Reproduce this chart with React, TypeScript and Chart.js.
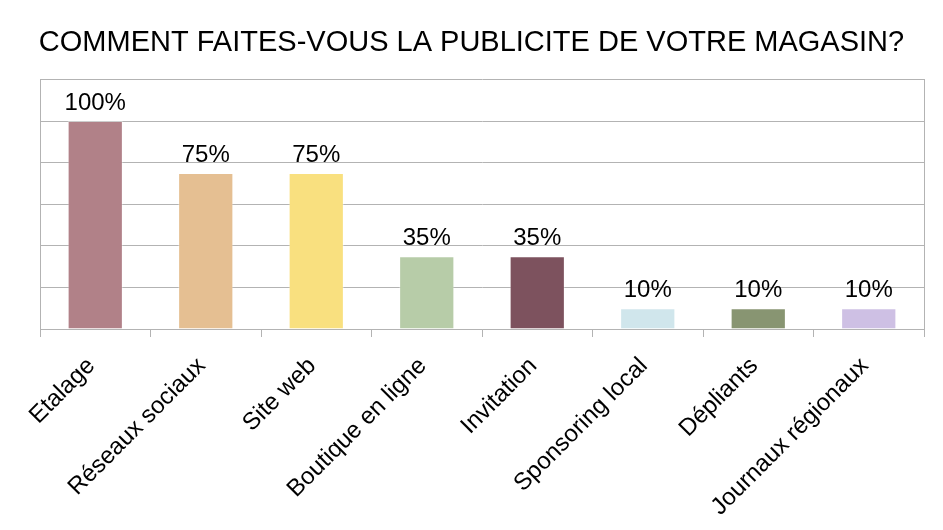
import React, { useEffect, useRef } from "react";
import { Chart, registerables } from "chart.js";

Chart.register(...registerables);

const categories = [
  "Etalage",
  "Réseaux sociaux",
  "Site web",
  "Boutique en ligne",
  "Invitation",
  "Sponsoring local",
  "Dépliants",
  "Journaux régionaux",
];
const values = [100, 75, 75, 35, 35, 10, 10, 10];
const barColors = [
  "#B18188",
  "#E5BF92",
  "#F9E07F",
  "#B7CCA8",
  "#7D525E",
  "#D0E6EC",
  "#889572",
  "#CEC0E4",
];
const titleText = "COMMENT FAITES-VOUS LA PUBLICITE DE VOTRE MAGASIN?";
const FONT = "'Liberation Sans', Arial, sans-serif";
const GRID = "#b3b3b3";

const valueLabels = {
  id: "valueLabels",
  afterDatasetsDraw(chart: any) {
    const ctx = chart.ctx;
    const meta = chart.getDatasetMeta(0);
    ctx.save();
    ctx.font = `24px ${FONT}`;
    ctx.fillStyle = "#000";
    ctx.textAlign = "center";
    ctx.textBaseline = "alphabetic";
    meta.data.forEach((bar: any, i: number) => {
      ctx.fillText(values[i] + "%", bar.x, bar.y - 11);
    });
    ctx.restore();
  },
};

export default function App() {
  const ref = useRef<HTMLCanvasElement | null>(null);
  useEffect(() => {
    document.body.style.margin = "0";
    const chart = new Chart(ref.current as HTMLCanvasElement, {
      type: "bar",
      data: {
        labels: categories,
        datasets: [
          {
            data: values,
            backgroundColor: barColors,
            borderColor: "rgba(255,255,255,0.35)",
            borderWidth: 1,
            barPercentage: 0.5,
            categoryPercentage: 1,
          },
        ],
      },
      options: {
        animation: false,
        responsive: false,
        maintainAspectRatio: false,
        layout: { padding: 0 },
        plugins: {
          legend: { display: false },
          tooltip: { enabled: false },
          title: {
            display: true,
            text: titleText,
            color: "#000",
            font: { family: FONT, size: 29, weight: "normal" },
            padding: { top: 25.4, bottom: 19.3 },
          },
        },
        scales: {
          x: {
            offset: true,
            grid: {
              display: true,
              offset: true,
              drawOnChartArea: false,
              drawTicks: true,
              tickLength: 8,
              color: GRID,
            },
            border: { display: true, color: GRID },
            ticks: {
              color: "#000",
              font: { family: FONT, size: 24 },
              maxRotation: 45,
              minRotation: 45,
              autoSkip: false,
              padding: 15,
              labelOffset: -4,
            },
            afterFit: (s: any) => {
              s.height = 201;
            },
          },
          y: {
            min: 0,
            max: 120,
            ticks: { display: false, stepSize: 20 },
            grid: { color: GRID, drawTicks: false },
            border: { display: true, color: GRID },
            afterFit: (s: any) => {
              s.width = 40;
            },
          },
          y2: {
            position: "right",
            min: 0,
            max: 120,
            ticks: { display: false },
            grid: { display: false, drawTicks: false },
            border: { display: true, color: GRID },
            afterFit: (s: any) => {
              s.width = 19;
            },
          },
        },
      },
      plugins: [valueLabels],
    } as any);
    return () => chart.destroy();
  }, []);
  return (
    <canvas
      ref={ref}
      width={943}
      height={530}
      style={{ display: "block", width: 943, height: 530 }}
    />
  );
}
